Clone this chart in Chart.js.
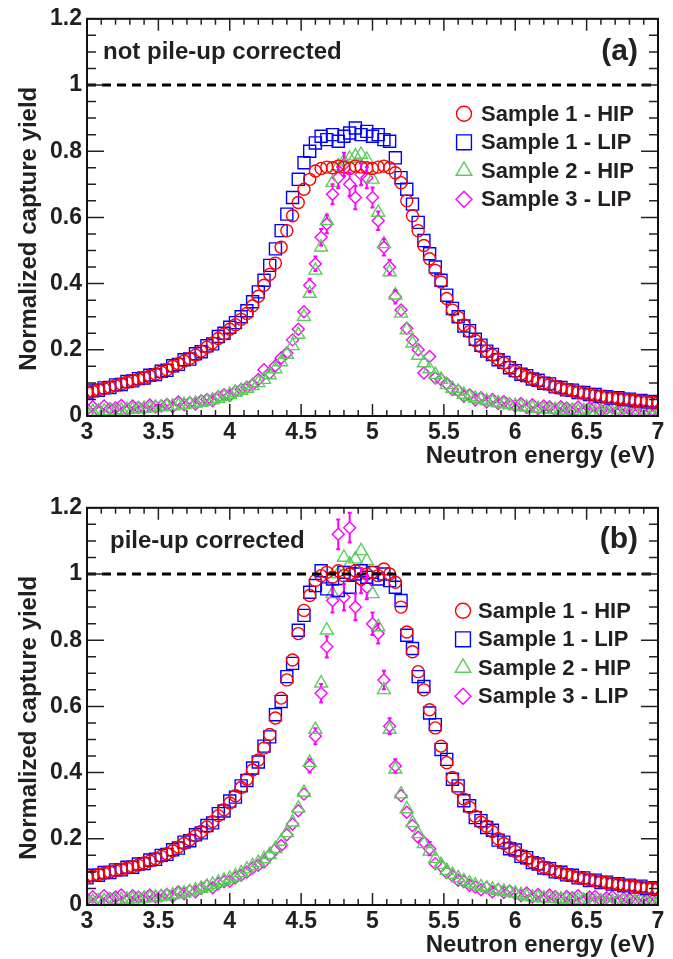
<!DOCTYPE html>
<html><head><meta charset="utf-8">
<script src="https://cdn.jsdelivr.net/npm/chart.js@4.4.1/dist/chart.umd.min.js"></script>
<style>
html,body{margin:0;padding:0;background:#fff;}
#wrap{position:relative;width:673px;height:959px;overflow:hidden;}
canvas{position:absolute;left:0;}
</style></head><body>
<div id="wrap">
<canvas id="chartA" width="673" height="490" style="top:0"></canvas>
<canvas id="chartB" width="673" height="470" style="top:489px"></canvas>
</div>
<script>
// ---------- data ----------
const energy = [
3.00,3.04,3.08,3.12,3.16,3.20,3.24,3.28,3.32,3.36,
3.40,3.44,3.48,3.52,3.56,3.60,3.64,3.68,3.72,3.76,
3.80,3.84,3.88,3.92,3.96,4.00,4.04,4.08,4.12,4.16,
4.20,4.24,4.28,4.32,4.36,4.40,4.44,4.48,4.52,4.56,
4.60,4.64,4.68,4.72,4.76,4.80,4.84,4.88,4.92,4.96,
5.00,5.04,5.08,5.12,5.16,5.20,5.24,5.28,5.32,5.36,
5.40,5.44,5.48,5.52,5.56,5.60,5.64,5.68,5.72,5.76,
5.80,5.84,5.88,5.92,5.96,6.00,6.04,6.08,6.12,6.16,
6.20,6.24,6.28,6.32,6.36,6.40,6.44,6.48,6.52,6.56,
6.60,6.64,6.68,6.72,6.76,6.80,6.84,6.88,6.92,6.96,
7.00];

const seriesLabels = ['Sample 1 - HIP','Sample 1 - LIP','Sample 2 - HIP','Sample 3 - LIP'];
const xTicks = [3,3.5,4,4.5,5,5.5,6,6.5,7];
const xTickLabels = ['3','3.5','4','4.5','5','5.5','6','6.5','7'];
const yTicks = [0,0.2,0.4,0.6,0.8,1,1.2];
const yTickLabels = ['0','0.2','0.4','0.6','0.8','1','1.2'];
const referenceLevel = 1;
const xTitle = 'Neutron energy (eV)';
const yTitle = 'Normalized capture yield';
const panelTitles = ['not pile-up corrected','pile-up corrected'];
const panelTags = ['(a)','(b)'];

// (a) not pile-up corrected
const s1HipA = [
.072,.075,.079,.083,.087,.092,.097,.102,.107,.111,
.116,.121,.127,.133,.140,.150,.158,.166,.174,.184,
.196,.208,.221,.234,.248,.262,.276,.292,.310,.333,
.362,.395,.428,.462,.510,.560,.605,.645,.685,.715,
.740,.748,.752,.750,.755,.752,.748,.755,.752,.750,
.748,.752,.755,.750,.735,.705,.650,.605,.560,.515,
.475,.440,.405,.355,.320,.298,.275,.255,.228,.210,
.196,.184,.172,.160,.148,.135,.127,.120,.113,.106,
.100,.095,.089,.084,.080,.076,.072,.069,.066,.063,
.060,.057,.055,.053,.051,.049,.047,.045,.043,.042,
.040];
const s1LipA = [
.070,.076,.078,.085,.086,.094,.095,.104,.106,.113,
.115,.123,.125,.135,.138,.152,.156,.170,.172,.188,
.194,.212,.218,.240,.250,.268,.282,.300,.318,.345,
.375,.410,.455,.505,.560,.610,.660,.715,.765,.800,
.825,.845,.835,.850,.830,.845,.855,.870,.850,.860,
.845,.850,.835,.830,.780,.720,.685,.640,.585,.530,
.490,.450,.410,.365,.325,.300,.272,.258,.232,.214,
.196,.186,.170,.162,.146,.137,.126,.122,.112,.108,
.099,.097,.088,.086,.079,.078,.071,.071,.065,.065,
.059,.058,.054,.055,.050,.051,.046,.047,.043,.044,
.041];
const s2HipA = [
.012,.013,.014,.015,.016,.017,.018,.019,.020,.021,
.023,.024,.026,.027,.029,.030,.032,.034,.036,.038,
.041,.044,.048,.053,.058,.065,.071,.077,.083,.091,
.100,.110,.124,.142,.163,.186,.212,.246,.300,.370,
.440,.510,.590,.705,.755,.770,.778,.785,.790,.775,
.715,.615,.520,.435,.365,.310,.260,.220,.183,.160,
.142,.125,.110,.094,.083,.074,.065,.058,.053,.049,
.045,.042,.039,.036,.033,.031,.028,.026,.024,.022,
.021,.020,.019,.018,.017,.016,.015,.014,.013,.013,
.012,.012,.011,.011,.010,.010,.010,.009,.009,.008,
.008];
const s3LipA = [
.020,.028,.018,.030,.022,.025,.032,.021,.030,.026,
.024,.033,.027,.030,.035,.028,.042,.034,.040,.036,
.046,.050,.046,.058,.064,.062,.074,.080,.087,.095,
.110,.140,.130,.152,.175,.190,.230,.262,.315,.395,
.460,.540,.580,.670,.720,.760,.700,.660,.730,.720,
.660,.590,.510,.450,.360,.320,.265,.230,.200,.130,
.180,.115,.110,.098,.080,.076,.060,.064,.048,.055,
.042,.050,.038,.044,.036,.030,.038,.026,.034,.022,
.030,.028,.018,.028,.024,.020,.027,.018,.024,.028,
.016,.022,.026,.015,.022,.020,.014,.021,.018,.016,
.020];
const s3LipErrA = [
.005,.005,.005,.005,.005,.005,.005,.005,.005,.005,
.005,.005,.005,.005,.005,.005,.005,.005,.005,.005,
.006,.006,.006,.006,.006,.007,.007,.007,.008,.008,
.008,.010,.010,.010,.012,.012,.014,.015,.018,.020,
.022,.025,.028,.030,.032,.035,.035,.035,.033,.032,
.030,.028,.025,.022,.020,.018,.015,.014,.012,.012,
.018,.010,.010,.008,.008,.007,.007,.006,.006,.006,
.005,.005,.005,.005,.005,.005,.005,.005,.005,.005,
.005,.005,.005,.005,.005,.005,.005,.005,.005,.005,
.005,.005,.005,.005,.005,.005,.005,.005,.005,.005,
.005];

// (b) pile-up corrected
const s1HipB = [
.084,.088,.092,.096,.100,.104,.108,.112,.116,.121,
.127,.133,.140,.147,.155,.164,.175,.186,.197,.209,
.222,.236,.252,.270,.288,.308,.330,.355,.380,.408,
.438,.474,.515,.565,.625,.680,.740,.820,.890,.935,
.980,.995,1.005,.990,1.010,.995,1.000,1.010,.985,1.000,
1.005,.995,1.015,1.000,.975,.900,.825,.765,.705,.650,
.590,.535,.480,.430,.385,.352,.320,.295,.268,.250,
.238,.222,.200,.186,.174,.162,.150,.140,.130,.122,
.114,.108,.102,.097,.093,.088,.084,.080,.076,.073,
.070,.067,.065,.062,.060,.058,.056,.054,.052,.050,
.049];
const s1LipB = [
.082,.090,.090,.098,.098,.106,.106,.114,.114,.124,
.125,.136,.138,.150,.153,.167,.172,.190,.194,.212,
.218,.240,.248,.276,.284,.314,.326,.360,.376,.414,
.432,.480,.508,.575,.615,.690,.730,.830,.875,.945,
.965,1.010,.955,.985,.950,1.005,.960,1.000,1.010,.990,
1.005,.985,1.000,.980,.960,.920,.815,.775,.690,.660,
.580,.545,.470,.440,.380,.360,.315,.300,.264,.255,
.234,.226,.196,.190,.170,.166,.147,.143,.128,.124,
.112,.110,.100,.099,.091,.090,.082,.082,.074,.075,
.068,.069,.063,.064,.058,.060,.054,.057,.050,.052,
.048];
const s2HipB = [
.010,.011,.012,.013,.014,.015,.016,.017,.018,.019,
.020,.022,.023,.025,.027,.030,.033,.036,.040,.045,
.050,.056,.062,.068,.074,.080,.087,.097,.108,.118,
.128,.139,.152,.170,.192,.218,.250,.292,.340,.430,
.530,.670,.830,.940,1.000,1.050,1.030,1.045,1.070,1.040,
.940,.840,.650,.530,.410,.335,.290,.248,.215,.185,
.162,.140,.122,.104,.092,.082,.073,.066,.060,.055,
.051,.047,.044,.041,.038,.035,.031,.026,.024,.022,
.021,.020,.019,.018,.017,.016,.015,.014,.013,.012,
.011,.011,.010,.010,.010,.009,.009,.009,.008,.008,
.008];
const s3LipB = [
.018,.025,.016,.028,.020,.024,.030,.018,.028,.024,
.022,.030,.024,.028,.032,.026,.040,.034,.042,.040,
.050,.058,.052,.064,.070,.072,.082,.090,.100,.112,
.120,.130,.150,.168,.180,.212,.245,.285,.335,.420,
.510,.640,.780,.920,1.120,.930,1.140,.900,.980,.960,
.850,.820,.680,.540,.420,.330,.280,.240,.205,.190,
.170,.125,.118,.098,.088,.075,.070,.060,.054,.046,
.052,.040,.046,.038,.042,.034,.028,.036,.024,.032,
.022,.030,.026,.018,.026,.022,.028,.016,.024,.026,
.015,.022,.025,.014,.020,.018,.013,.020,.016,.014,
.018];
const s3LipErrB = [
.005,.005,.005,.005,.005,.005,.005,.005,.005,.005,
.005,.005,.005,.005,.005,.005,.005,.005,.005,.005,
.006,.006,.006,.006,.007,.007,.007,.008,.008,.008,
.009,.010,.010,.011,.012,.013,.014,.016,.018,.020,
.024,.028,.032,.036,.045,.040,.045,.040,.038,.036,
.034,.030,.028,.024,.020,.018,.016,.014,.013,.012,
.020,.010,.010,.009,.008,.007,.007,.006,.006,.006,
.005,.005,.005,.005,.005,.005,.005,.005,.005,.005,
.005,.005,.005,.005,.005,.005,.005,.005,.005,.005,
.005,.005,.005,.005,.005,.005,.005,.005,.005,.005,
.005];

// ---------- styling ----------
const FONT = '"Liberation Sans", Arial, Helvetica, sans-serif';
const TEXT = '#231f20';
const STYLES = [
  {color:'#ff0000', pointStyle:'circle',   radius:6,   legendRadius:7.5},
  {color:'#0000ff', pointStyle:'rect',     radius:8.5, legendRadius:10.5},
  {color:'#5ccc5c', pointStyle:'triangle', radius:7.5, legendRadius:9},
  {color:'#ff00ff', pointStyle:'rectRot',  radius:6,   legendRadius:8}
];

function drawMarker(ctx, style, radius, x, y){
  const opts = {pointStyle: style.pointStyle, radius: radius, rotation: 0, borderWidth: 1.4};
  ctx.save();
  ctx.strokeStyle = style.color; ctx.fillStyle = 'rgba(0,0,0,0)'; ctx.lineWidth = 1.4;
  if (Chart.helpers && Chart.helpers.drawPoint) {
    Chart.helpers.drawPoint(ctx, opts, x, y);
  }
  ctx.restore();
}

const errorBars = {
  id: 'errorBars',
  afterDatasetsDraw(chart){
    const ctx = chart.ctx, ys = chart.scales.y, a = chart.chartArea;
    ctx.save();
    ctx.beginPath(); ctx.rect(a.left, a.top, a.right - a.left, a.bottom - a.top); ctx.clip();
    chart.data.datasets.forEach((ds, di) => {
      if (!ds.errors) return;
      const meta = chart.getDatasetMeta(di);
      const r = ds.pointRadius;
      ctx.strokeStyle = ds.borderColor; ctx.lineWidth = 2;
      meta.data.forEach((pt, i) => {
        const v = ds.data[i].y, e = ds.errors[i];
        const yTop = ys.getPixelForValue(v + e), yBot = ys.getPixelForValue(v - e);
        const x = pt.x, y = pt.y;
        ctx.beginPath();
        if (y - yTop > r) {
          ctx.moveTo(x, y - r); ctx.lineTo(x, yTop);
          ctx.moveTo(x - 2, yTop); ctx.lineTo(x + 2, yTop);
        }
        if (yBot - y > r) {
          ctx.moveTo(x, y + r); ctx.lineTo(x, yBot);
          ctx.moveTo(x - 2, yBot); ctx.lineTo(x + 2, yBot);
        }
        ctx.stroke();
      });
    });
    ctx.restore();
  }
};

const frameTicks = {
  id: 'frameTicks',
  afterDatasetsDraw(chart){
    const ctx = chart.ctx, a = chart.chartArea, xs = chart.scales.x, ys = chart.scales.y;
    ctx.save();
    ctx.strokeStyle = '#222'; ctx.lineWidth = 1.5;
    ctx.beginPath();
    for (let k = 30; k <= 70; k++) {
      const px = xs.getPixelForValue(k / 10);
      const len = (k % 5 === 0) ? 12 : 6;
      ctx.moveTo(px, a.bottom); ctx.lineTo(px, a.bottom - len);
      ctx.moveTo(px, a.top); ctx.lineTo(px, a.top + len);
    }
    for (let k = 0; k <= 24; k++) {
      const py = ys.getPixelForValue(k * 0.05);
      const len = (k % 4 === 0) ? 17 : 9;
      ctx.moveTo(a.left, py); ctx.lineTo(a.left + len, py);
      ctx.moveTo(a.right, py); ctx.lineTo(a.right - len, py);
    }
    ctx.stroke();
    ctx.lineWidth = 2; ctx.strokeStyle = '#111';
    ctx.strokeRect(a.left, a.top, a.right - a.left, a.bottom - a.top);
    ctx.restore();
  }
};

const decor = {
  id: 'decor',
  afterDraw(chart, args, o){
    const ctx = chart.ctx, a = chart.chartArea;
    ctx.save();
    ctx.fillStyle = TEXT;
    // axis titles
    ctx.font = 'bold 24px ' + FONT;
    ctx.textAlign = 'right'; ctx.textBaseline = 'alphabetic';
    ctx.fillText(xTitle, a.right - 3, a.bottom + 47);
    ctx.save();
    ctx.translate(36, a.top + 210); ctx.rotate(-Math.PI / 2);
    ctx.textAlign = 'center';
    ctx.fillText(yTitle, 0, 0);
    ctx.restore();
    // panel texts
    ctx.font = 'bold 24px ' + FONT; ctx.textAlign = 'left';
    ctx.fillText(o.title, a.left + o.titleDx, a.top + 40);
    ctx.font = 'bold 30px ' + FONT; ctx.textAlign = 'right';
    ctx.fillText(o.tag, a.right - 20, a.top + o.tagDy);
    // legend
    ctx.font = 'bold 22px ' + FONT; ctx.textAlign = 'left'; ctx.textBaseline = 'middle';
    let row = 0;
    chart.data.datasets.forEach((ds) => {
      if (ds.isReference) return;
      const st = STYLES[ds.styleIndex];
      const y = a.top + o.legendDy + row * 28.5;
      const mx = a.left + o.legendDx;
      drawMarker(ctx, st, st.legendRadius, mx, y);
      ctx.fillStyle = TEXT;
      ctx.fillText(ds.label, mx + o.textGap, y + 1);
      row++;
    });
    ctx.restore();
  }
};

function makeChart(id, series, errs, padBottom, decorOpts){
  const datasets = [{
    type: 'line', label: 'ref', isReference: true,
    data: [{x: xTicks[0], y: referenceLevel}, {x: xTicks[xTicks.length - 1], y: referenceLevel}],
    borderColor: '#000', borderWidth: 2.8, borderDash: [9, 6], pointRadius: 0, fill: false
  }];
  series.forEach((vals, si) => {
    const st = STYLES[si];
    datasets.push({
      label: seriesLabels[si], styleIndex: si,
      data: energy.map((e, i) => ({x: e, y: vals[i]})),
      errors: si === 3 ? errs : null,
      showLine: false, clip: 0,
      pointStyle: st.pointStyle, pointRadius: st.radius, pointHoverRadius: st.radius,
      pointBorderWidth: 1.4, borderColor: st.color, pointBorderColor: st.color,
      backgroundColor: 'rgba(0,0,0,0)', pointBackgroundColor: 'rgba(0,0,0,0)'
    });
  });
  const tickFont = {family: FONT, size: 23, weight: 'bold'};
  return new Chart(document.getElementById(id), {
    type: 'scatter',
    data: {datasets},
    options: {
      responsive: false, animation: false, devicePixelRatio: 1,
      events: [],
      layout: {padding: {top: 15, right: 15, bottom: padBottom, left: 0}, autoPadding: false},
      plugins: {legend: {display: false}, tooltip: {enabled: false}, decor: decorOpts},
      scales: {
        x: {
          type: 'linear', min: 3, max: 7,
          afterBuildTicks: s => { s.ticks = xTicks.map(v => ({value: v})); },
          afterFit: s => { s.height = 54; },
          grid: {display: false, drawTicks: false}, border: {display: false},
          ticks: {callback: (v, i) => xTickLabels[i], font: tickFont, color: TEXT, padding: 3,
                  maxRotation: 0, autoSkip: false}
        },
        y: {
          type: 'linear', min: 0, max: 1.2,
          afterBuildTicks: s => { s.ticks = yTicks.map(v => ({value: v})); },
          afterFit: s => { s.width = 87; },
          grid: {display: false, drawTicks: false}, border: {display: false},
          ticks: {callback: (v, i) => yTickLabels[i], font: tickFont, color: TEXT, padding: 5,
                  autoSkip: false}
        }
      }
    },
    plugins: [errorBars, frameTicks, decor]
  });
}

makeChart('chartA', [s1HipA, s1LipA, s2HipA, s3LipA], s3LipErrA, 20,
  {title: panelTitles[0], titleDx: 16, tag: panelTags[0], tagDy: 41, legendDx: 377, legendDy: 95, textGap: 17});
makeChart('chartB', [s1HipB, s1LipB, s2HipB, s3LipB], s3LipErrB, 0,
  {title: panelTitles[1], titleDx: 23, tag: panelTags[1], tagDy: 40, legendDx: 376, legendDy: 103, textGap: 15});
</script>
</body></html>
